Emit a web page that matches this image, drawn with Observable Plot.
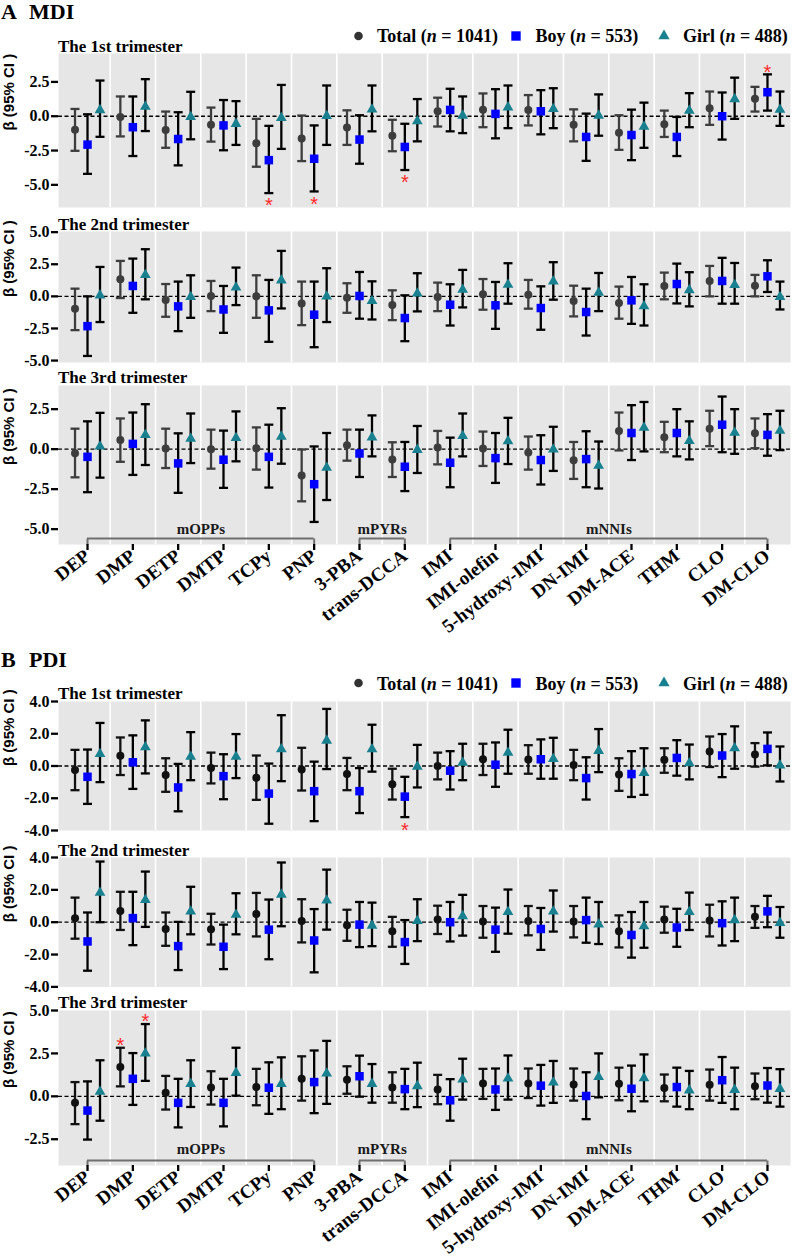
<!DOCTYPE html>
<html><head><meta charset="utf-8">
<script src="https://cdn.jsdelivr.net/npm/d3@7"></script>
<script src="https://cdn.jsdelivr.net/npm/@observablehq/plot@0.6"></script>
<style>
body{margin:0;background:#fff;}
#page{position:relative;width:792px;height:1256px;overflow:hidden;}
#page svg.plotsvg{position:absolute;left:0;}
</style></head><body><div id="page"></div>
<script>
const chemicals = ["DEP","DMP","DETP","DMTP","TCPy","PNP","3-PBA","trans-DCCA","IMI","IMI-olefin","5-hydroxy-IMI","DN-IMI","DM-ACE","THM","CLO","DM-CLO"];
const groups = ["Total","Boy","Girl"];
const groupN = [1041, 553, 488];
const classes = [
  {name:"mOPPs", from:"DEP", to:"PNP"},
  {name:"mPYRs", from:"3-PBA", to:"trans-DCCA"},
  {name:"mNNIs", from:"IMI", to:"DM-CLO"}
];
// each entry: [beta, lower 95% CI, upper 95% CI], in chemical order
const mdiT1Total = [[-0.99,-2.52,0.53],[-0.05,-1.47,1.44],[-1.0,-2.3,0.34],[-0.63,-1.85,0.63],[-1.97,-3.68,-0.19],[-1.63,-3.27,0.05],[-0.82,-2.09,0.43],[-1.42,-2.55,-0.26],[0.36,-0.75,1.35],[0.48,-0.8,1.66],[0.46,-0.67,1.54],[-0.63,-1.83,0.5],[-1.2,-2.45,0.07],[-0.58,-1.51,0.41],[0.58,-0.63,1.8],[1.27,0.34,2.14]];
const mdiT1Boy = [[-2.07,-4.2,0.14],[-0.8,-2.9,1.44],[-1.66,-3.58,0.29],[-0.67,-2.48,1.18],[-3.2,-5.6,-0.7],[-3.1,-5.48,-0.67],[-1.7,-3.46,0.07],[-2.24,-3.92,-0.55],[0.46,-1.1,2.0],[0.17,-1.61,1.97],[0.36,-1.32,1.9],[-1.51,-3.25,0.19],[-1.37,-3.2,0.48],[-1.51,-2.9,-0.05],[0.0,-1.7,1.73],[1.75,0.41,3.05]];
const mdiT1Girl = [[0.45,-1.5,2.6],[0.7,-1.08,2.7],[-0.05,-1.68,1.78],[-0.55,-2.09,1.1],[-0.12,-2.38,2.28],[0.02,-2.09,2.24],[0.5,-1.1,2.24],[-0.36,-1.83,1.25],[0.05,-1.23,1.44],[0.65,-0.87,2.24],[0.53,-0.87,2.04],[0.05,-1.42,1.59],[-0.75,-2.3,0.99],[0.41,-0.8,1.68],[1.25,-0.19,2.81],[0.48,-0.7,1.8]];
const mdiT2Total = [[-0.96,-2.63,0.6],[1.33,-0.13,2.76],[-0.29,-1.59,0.96],[0.03,-1.15,1.2],[0.0,-1.67,1.64],[-0.55,-2.24,1.15],[-0.1,-1.28,1.02],[-0.68,-1.85,0.47],[-0.05,-1.15,1.07],[0.16,-1.04,1.35],[0.13,-0.96,1.28],[-0.36,-1.56,0.83],[-0.52,-1.74,0.76],[0.81,-0.23,1.85],[1.2,0.0,2.37],[0.83,0.0,1.67]];
const mdiT2Boy = [[-2.32,-4.64,0.0],[0.81,-1.28,2.94],[-0.78,-2.71,1.15],[-1.02,-2.84,0.81],[-1.09,-3.54,1.28],[-1.43,-3.96,1.15],[0.03,-1.74,1.9],[-1.69,-3.49,0.08],[-0.65,-2.27,0.94],[-0.7,-2.53,1.12],[-0.91,-2.6,0.78],[-1.22,-3.05,0.6],[-0.31,-2.14,1.51],[0.96,-0.55,2.55],[1.2,-0.57,3.0],[1.56,0.34,2.81]];
const mdiT2Girl = [[0.08,-2.0,2.29],[1.67,-0.23,3.67],[-0.05,-1.67,1.64],[0.7,-0.68,2.24],[1.25,-0.94,3.54],[0.0,-2.0,2.19],[-0.36,-1.8,1.17],[0.23,-1.17,1.8],[0.52,-0.86,2.06],[0.91,-0.57,2.58],[1.17,-0.26,2.66],[0.29,-1.15,1.82],[-0.76,-2.27,0.94],[0.49,-0.78,1.88],[0.89,-0.57,2.6],[-0.05,-1.02,1.15]];
const mdiT3Total = [[-0.25,-1.76,1.28],[0.58,-0.79,1.92],[0.04,-1.18,1.28],[0.0,-1.22,1.22],[0.06,-1.28,1.36],[-1.65,-3.26,-0.02],[0.25,-0.72,1.22],[-0.64,-1.74,0.43],[0.1,-0.95,1.14],[0.04,-1.05,1.1],[-0.21,-1.28,0.79],[-0.7,-1.86,0.45],[1.14,-0.08,2.29],[0.74,-0.19,1.71],[1.28,0.19,2.4],[0.99,0.06,1.92]];
const mdiT3Boy = [[-0.48,-2.69,1.74],[0.33,-1.61,2.29],[-0.89,-2.73,0.99],[-0.66,-2.42,1.16],[-0.48,-2.4,1.53],[-2.19,-4.55,0.17],[-0.27,-1.74,1.22],[-1.1,-2.62,0.45],[-0.85,-2.38,0.72],[-0.56,-2.11,1.01],[-0.68,-2.21,0.87],[-0.62,-2.38,1.12],[1.01,-0.68,2.75],[1.01,-0.45,2.5],[1.53,-0.19,3.29],[0.89,-0.41,2.19]];
const mdiT3Girl = [[0.17,-1.78,2.27],[0.89,-0.99,2.81],[0.66,-0.87,2.23],[0.7,-0.76,2.36],[0.79,-0.91,2.56],[-1.16,-3.18,1.01],[0.74,-0.45,2.11],[-0.04,-1.49,1.45],[0.83,-0.45,2.23],[0.5,-0.93,1.96],[-0.02,-1.36,1.4],[-1.03,-2.46,0.48],[1.34,-0.14,2.95],[0.52,-0.64,1.74],[1.03,-0.29,2.5],[1.16,-0.06,2.4]];
const pdiT1Total = [[-0.25,-1.5,1.0],[0.63,-0.56,1.77],[-0.56,-1.6,0.48],[-0.13,-1.08,0.83],[-0.73,-2.1,0.65],[-0.21,-1.52,1.13],[-0.5,-1.5,0.5],[-1.13,-2.08,-0.17],[0.0,-0.83,0.83],[0.42,-0.56,1.38],[0.4,-0.48,1.29],[0.06,-0.88,1.0],[-0.52,-1.54,0.48],[0.38,-0.42,1.1],[0.9,-0.06,1.83],[0.71,-0.04,1.42]];
const pdiT1Boy = [[-0.67,-2.35,1.02],[0.23,-1.42,1.9],[-1.33,-2.81,0.13],[-0.63,-2.06,0.73],[-1.71,-3.58,0.15],[-1.56,-3.42,0.27],[-1.56,-2.92,-0.13],[-1.9,-3.17,-0.67],[-0.29,-1.46,0.92],[0.08,-1.29,1.46],[0.42,-0.79,1.65],[-0.75,-2.08,0.54],[-0.5,-1.92,0.92],[0.5,-0.6,1.6],[0.65,-0.69,1.98],[1.06,0.04,2.08]];
const pdiT1Girl = [[0.75,-1.0,2.67],[1.17,-0.46,2.83],[0.58,-0.88,2.1],[0.58,-0.75,1.98],[1.04,-0.94,3.15],[1.58,-0.19,3.54],[1.04,-0.35,2.56],[-0.04,-1.33,1.31],[0.21,-0.88,1.38],[0.83,-0.48,2.25],[0.44,-0.79,1.75],[0.94,-0.38,2.29],[-0.42,-1.79,1.1],[0.17,-0.83,1.33],[1.1,-0.17,2.46],[0.04,-0.96,1.21]];
const pdiT2Total = [[0.25,-1.02,1.52],[0.69,-0.48,1.88],[-0.42,-1.46,0.6],[-0.44,-1.38,0.52],[0.5,-0.88,1.81],[0.08,-1.25,1.42],[-0.19,-1.15,0.77],[-0.56,-1.52,0.33],[0.17,-0.73,1.02],[0.04,-0.96,1.0],[0.08,-0.81,1.0],[0.04,-0.94,1.0],[-0.56,-1.56,0.42],[0.17,-0.65,0.96],[0.1,-0.88,1.08],[0.33,-0.35,1.0]];
const pdiT2Boy = [[-1.19,-3.0,0.6],[0.25,-1.42,1.88],[-1.48,-2.96,0.02],[-1.52,-2.9,-0.15],[-0.46,-2.29,1.4],[-1.13,-3.1,0.81],[-0.15,-1.54,1.25],[-1.23,-2.58,0.13],[0.0,-1.19,1.25],[-0.46,-1.83,0.9],[-0.42,-1.71,0.88],[0.13,-1.27,1.52],[-0.79,-2.19,0.63],[-0.33,-1.52,0.83],[-0.06,-1.44,1.29],[0.67,-0.31,1.63]];
const pdiT2Girl = [[1.83,0.0,3.75],[1.38,-0.29,3.13],[0.67,-0.75,2.19],[0.46,-0.75,1.79],[1.71,-0.25,3.69],[1.35,-0.46,3.25],[-0.21,-1.48,1.21],[0.08,-1.17,1.42],[0.38,-0.83,1.69],[0.63,-0.71,2.02],[0.67,-0.58,1.96],[-0.13,-1.35,1.25],[-0.25,-1.58,1.25],[0.63,-0.48,1.83],[0.13,-1.17,1.52],[-0.04,-0.96,0.94]];
const pdiT3Total = [[-0.38,-1.62,0.83],[1.71,0.58,2.83],[0.21,-0.77,1.19],[0.52,-0.48,1.46],[0.54,-0.52,1.6],[1.02,-0.25,2.33],[0.96,0.15,1.75],[0.52,-0.37,1.4],[0.4,-0.46,1.25],[0.75,-0.15,1.6],[0.75,-0.1,1.62],[0.69,-0.25,1.62],[0.73,-0.23,1.67],[0.48,-0.29,1.27],[0.67,-0.25,1.56],[0.58,-0.17,1.33]];
const pdiT3Boy = [[-0.83,-2.52,0.87],[1.02,-0.5,2.52],[-0.38,-1.81,1.02],[-0.38,-1.75,1.02],[0.5,-1.02,1.98],[0.83,-0.98,2.67],[1.17,-0.02,2.37],[0.42,-0.75,1.6],[-0.23,-1.42,1.0],[0.4,-0.79,1.62],[0.62,-0.54,1.83],[0.02,-1.33,1.4],[0.44,-0.87,1.79],[0.54,-0.6,1.67],[0.94,-0.38,2.29],[0.63,-0.37,1.65]];
const pdiT3Girl = [[0.27,-1.42,2.1],[2.5,0.9,4.21],[0.73,-0.62,2.1],[1.37,0.04,2.83],[0.73,-0.75,2.27],[1.33,-0.44,3.23],[0.73,-0.37,1.88],[0.6,-0.63,1.96],[0.98,-0.19,2.19],[1.04,-0.19,2.38],[0.81,-0.38,2.06],[1.13,-0.06,2.5],[1.06,-0.29,2.44],[0.35,-0.75,1.48],[0.38,-0.75,1.67],[0.44,-0.6,1.58]];
const significant = [
  {outcome:"MDI", trimester:1, chemical:"TCPy", group:"Boy"},
  {outcome:"MDI", trimester:1, chemical:"PNP", group:"Boy"},
  {outcome:"MDI", trimester:1, chemical:"trans-DCCA", group:"Boy"},
  {outcome:"MDI", trimester:1, chemical:"DM-CLO", group:"Boy"},
  {outcome:"PDI", trimester:1, chemical:"trans-DCCA", group:"Boy"},
  {outcome:"PDI", trimester:3, chemical:"DMP", group:"Total"},
  {outcome:"PDI", trimester:3, chemical:"DMP", group:"Girl"}
];
const trimesterLabels = ["The 1st trimester","The 2nd trimester","The 3rd trimester"];

// ---------- layout / style ----------
const SERIF = "'Liberation Serif','Times New Roman',serif";
const SANS = "'Liberation Sans',Arial,sans-serif";
const BOY = "#0000ff", GIRL = "#18808e", RED = "#ff2b2b";
const OFFS = {Total:-12.5, Boy:0, Girl:12.5};
const panels = [
  {letter:"A", outcome:"MDI", titleBase:19, legendCy:36, legendBase:42, totalColor:"#3d3d3d",
   subs:[
    {t:1, labelBase:51.5, top:53, bottom:207, domain:[-6.65,4.57], ticks:[-5,-2.5,0,2.5], series:[mdiT1Total,mdiT1Boy,mdiT1Girl]},
    {t:2, labelBase:229.5, top:230.7, bottom:361.7, domain:[-5.15,5.05], ticks:[-5,-2.5,0,2.5,5], series:[mdiT2Total,mdiT2Boy,mdiT2Girl]},
    {t:3, labelBase:382.5, top:385, bottom:544, domain:[-5.96,3.98], ticks:[-5,-2.5,0,2.5], series:[mdiT3Total,mdiT3Boy,mdiT3Girl], axis:true, brDy:-6, clDy:-15}
   ]},
  {letter:"B", outcome:"PDI", titleBase:667, legendCy:683, legendBase:690, totalColor:"#111111",
   subs:[
    {t:1, labelBase:699, top:701, bottom:830, domain:[-4,4], ticks:[-4,-2,0,2,4], series:[pdiT1Total,pdiT1Boy,pdiT1Girl]},
    {t:2, labelBase:856, top:857.3, bottom:986.7, domain:[-4,4], ticks:[-4,-2,0,2,4], series:[pdiT2Total,pdiT2Boy,pdiT2Girl]},
    {t:3, labelBase:1008, top:1010, bottom:1165, domain:[-4.03,5], ticks:[-2.5,0,2.5,5], series:[pdiT3Total,pdiT3Boy,pdiT3Girl], axis:true, brDy:-5, clDy:-16}
   ]}
];

const capSym = {draw(ctx, size){ const w = Math.sqrt(size/Math.PI); ctx.moveTo(-w,0); ctx.lineTo(w,0); }};
const vSym = {draw(ctx, size){ const w = Math.sqrt(size/Math.PI); ctx.moveTo(0,-w); ctx.lineTo(0,w); }};

const page = document.getElementById("page");

function makeSub(panel, sub){
  const rows = [];
  groups.forEach((g, gi) => sub.series[gi].forEach((v, i) => rows.push({chemical:chemicals[i], i, group:g, est:v[0], lo:v[1], hi:v[2]})));
  const mt = 12, mb = sub.axis ? 90 : 10;
  const [y0] = sub.domain;
  const marks = [
    Plot.frame({fill:"#e6e6e6"}),
    Plot.ruleX(chemicals.slice(1), {x:(d) => chemicals.indexOf(d) - 0.5, stroke:"#ffffff", strokeWidth:1.6}),
    Plot.ruleY([0], {stroke:"#000", strokeWidth:1.3, strokeDasharray:"4,2.5"})
  ];
  groups.forEach(g => {
    const d = rows.filter(r => r.group === g);
    const c = g === "Total" ? panel.totalColor : "#000";
    const dx = OFFS[g];
    marks.push(Plot.ruleX(d, {x:"i", y1:"lo", y2:"hi", dx, stroke:c, strokeWidth:2.3}));
    marks.push(Plot.dot(d, {x:"i", y:"lo", dx, symbol:capSym, r:4.5, fill:"none", stroke:c, strokeWidth:2.3}));
    marks.push(Plot.dot(d, {x:"i", y:"hi", dx, symbol:capSym, r:4.5, fill:"none", stroke:c, strokeWidth:2.3}));
  });
  const tot = rows.filter(r => r.group === "Total"), boy = rows.filter(r => r.group === "Boy"), girl = rows.filter(r => r.group === "Girl");
  marks.push(Plot.dot(tot, {x:"i", y:"est", dx:OFFS.Total, symbol:"circle", r:4, fill:panel.totalColor, stroke:"none"}));
  marks.push(Plot.dot(boy, {x:"i", y:"est", dx:OFFS.Boy, symbol:"square", r:4.8, fill:BOY, stroke:"none"}));
  marks.push(Plot.dot(girl, {x:"i", y:"est", dx:OFFS.Girl, symbol:"triangle", r:4, fill:GIRL, stroke:"none"}));
  // significance asterisks
  const sig = significant.filter(s => s.outcome === panel.outcome && s.trimester === sub.t)
    .map(s => rows.find(r => r.chemical === s.chemical && r.group === s.group));
  groups.forEach(g => {
    const neg = sig.filter(r => r.group === g && r.est < 0), pos = sig.filter(r => r.group === g && r.est >= 0);
    if (neg.length) marks.push(Plot.text(neg, {x:"i", y:"lo", dx:OFFS[g], dy:13, text:() => "*", fill:RED, fontSize:20, fontFamily:SANS, fontWeight:"normal"}));
    if (pos.length) marks.push(Plot.text(pos, {x:"i", y:"hi", dx:OFFS[g], dy:-2, text:() => "*", fill:RED, fontSize:20, fontFamily:SANS, fontWeight:"normal"}));
  });
  marks.push(Plot.axisY({ticks:sub.ticks, tickFormat:(d) => d.toFixed(1), tickSize:7, tickPadding:2, strokeWidth:2.3, line:true, fontSize:16, label:null}));
  marks.push(Plot.text(["β (95% CI )"], {frameAnchor:"left", dx:-49, rotate:-90, fontFamily:SANS, fontSize:15, fontWeight:"bold", fill:"#000"}));
  if (sub.axis) {
    marks.push(Plot.ruleY(classes, {x1:(d) => chemicals.indexOf(d.from), x2:(d) => chemicals.indexOf(d.to), y:() => y0, dy:sub.brDy, stroke:"#6f6f6f", strokeWidth:2}));
    marks.push(Plot.dot(classes.flatMap(c => [c.from, c.to]), {x:(d) => chemicals.indexOf(d), y:() => y0, dy:sub.brDy/2, symbol:vSym, r:Math.abs(sub.brDy)/2, fill:"none", stroke:"#6f6f6f", strokeWidth:2}));
    marks.push(Plot.text(classes, {x:(d) => (chemicals.indexOf(d.from) + chemicals.indexOf(d.to)) / 2, y:() => y0, dy:sub.clDy, text:"name", fontSize:15, fill:"#1a1a1a"}));
    marks.push(Plot.axisX({ticks:d3.range(chemicals.length), tickFormat:(i) => chemicals[i], tickRotate:-38, tickSize:6, tickPadding:3, fontSize:19, strokeWidth:2.3, line:true, label:null}));
  }
  const svg = Plot.plot({
    width:792, height:(sub.bottom - sub.top) + mt + mb,
    marginLeft:58, marginRight:2, marginTop:mt, marginBottom:mb,
    x:{type:"linear", domain:[-0.64, 15.508], axis: sub.axis ? undefined : null, label:null},
    y:{type:"linear", domain:sub.domain, label:null},
    style:{fontFamily:SERIF, fontWeight:"bold", fontSize:"15px", color:"#000", background:"transparent", overflow:"visible"},
    marks
  });
  svg.classList.add("plotsvg");
  svg.style.top = (sub.top - mt) + "px";
  svg.style.position = "absolute";
  page.appendChild(svg);
}

panels.forEach(p => p.subs.forEach(s => makeSub(p, s)));

// overlay: panel titles, legends, trimester labels
const ov = d3.select(page).append("svg").attr("width",792).attr("height",1256)
  .style("position","absolute").style("left","0").style("top","0").style("pointer-events","none")
  .style("font-family",SERIF).style("font-weight","bold");
const legendX = {marker:[358.5,516,664], text:[377,535.5,683]};
panels.forEach(p => {
  ov.append("text").attr("x",1).attr("y",p.titleBase).attr("font-size",22).text(p.letter);
  ov.append("text").attr("x",29).attr("y",p.titleBase).attr("font-size",22).text(p.outcome);
  groups.forEach((g, gi) => {
    const mx = legendX.marker[gi], my = p.legendCy;
    if (g === "Total") ov.append("circle").attr("cx",mx).attr("cy",my).attr("r",4.3).attr("fill","#333");
    if (g === "Boy") ov.append("rect").attr("x",mx-4.7).attr("y",my-4.7).attr("width",9.4).attr("height",9.4).attr("fill",BOY);
    if (g === "Girl") ov.append("path").attr("transform",`translate(${mx},${my})`).attr("d", d3.symbol(d3.symbolTriangle, 55)()).attr("fill",GIRL);
    const t = ov.append("text").attr("x",legendX.text[gi]).attr("y",p.legendBase).attr("font-size",18);
    t.append("tspan").text(g + " (");
    t.append("tspan").attr("font-style","italic").text("n");
    t.append("tspan").text(" = " + groupN[gi] + ")");
  });
  p.subs.forEach(s => {
    ov.append("text").attr("x",58).attr("y",s.labelBase).attr("font-size",17).text(trimesterLabels[s.t-1]);
  });
});
</script></body></html>
